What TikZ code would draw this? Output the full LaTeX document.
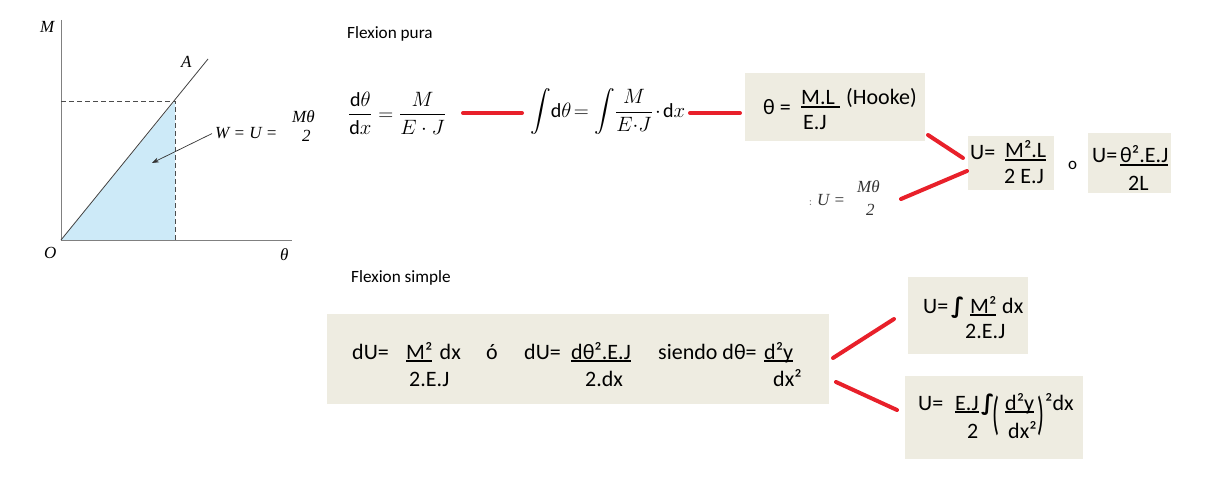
\documentclass[tikz,border=0pt]{standalone}
\usepackage{amsmath}
\usepackage{fontspec}
\setmainfont{Carlito}
\newfontfamily\bookfont{Liberation Serif}
\newfontfamily\signfont{DejaVu Sans}
\usetikzlibrary{arrows.meta}

\definecolor{boxfill}{HTML}{EEECE1}
\definecolor{linkred}{HTML}{E8202A}
\definecolor{areafill}{HTML}{CDEAF8}
\definecolor{axisgray}{HTML}{808080}

% underline of the box texts
\newcommand{\ubar}[1]{\setbox0\hbox{#1}\rlap{\rule[-3pt]{\wd0}{1.8pt}}\box0}
% thin tall parenthesis
\newcommand{\tallpar}[1]{\scalebox{0.5}[1]{\fontsize{46}{48}\selectfont #1}}

\begin{document}
\begin{tikzpicture}[x=1pt,y=-1pt,
    box/.style={fill=boxfill,inner sep=0pt,outer sep=0pt,anchor=north west},
    txt/.style={font=\fontsize{22}{26}\selectfont,inner sep=0pt,anchor=base west},
    head/.style={font=\fontsize{17.2}{20}\selectfont,inner sep=0pt,anchor=base west},
    book/.style={font=\bookfont\itshape\fontsize{17}{19}\selectfont,inner sep=0pt,anchor=base west},
    eqn/.style={font=\fontsize{20}{24}\selectfont,inner sep=0pt,anchor=west},
    link/.style={draw=linkred,line width=4pt,line cap=round}]
    \useasboundingbox (0,0) rectangle (1224,500);

    % graph M - theta
    \coordinate (O) at (61,240);
    \coordinate (Mtop) at (61,20);
    \coordinate (thend) at (292,240);
    \coordinate (P) at (175,101);
    \coordinate (Pm) at (61,101);
    \coordinate (Pt) at (175,240);
    \coordinate (Aend) at (208,59);
    \fill[areafill] (O) -- (P) -- (Pt) -- cycle;
    \draw[axisgray,line width=1pt] (Mtop) -- (O) -- (thend);
    \draw[black!70,line width=0.8pt,dash pattern=on 5pt off 3pt] (Pm) -- (P) -- (Pt);
    \draw[black!75,line width=0.8pt] (O) -- (Aend);
    \node[book] (lM) at (40,33) {M};
    \node[book] (lA) at (181,68) {A};
    \node[book] (lO) at (44,258) {O};
    \node[book] (lth) at (280,260) {θ};
    \node[book] (lW) at (215,139) {W = U =};
    \node[book] (lWnum) at (292,123) {Mθ};
    \node[book] (lWden) at (302,142) {2};
    \draw[-{Stealth[length=7pt,width=5pt]},black!80,line width=0.7pt] ([xshift=-3pt]lW.west) -- (152,163);

    % flexion pura
    \node[head] (hpura) at (347,39) {Flexion pura};
    \node[eqn] (eq1) at (348,113) {$\dfrac{\mathrm{d}\theta}{\mathrm{d}x}=\dfrac{M}{E\cdot J}$};
    \node[eqn] (eq2) at (530,112) {$\displaystyle\int\!\mathrm{d}\theta\mkern2mu{=}\mkern2mu\int\!\dfrac{M}{E{\cdot}J}\mkern2mu{\cdot}\mkern2mu\mathrm{d}x$};

    \foreach \n/\x/\y/\w/\h in {b1/745/73/180/68, b2/968/136/86/54, b3/1088/133/83/60,
        b4/327/314/502/90, b5/908/277/120/77, b6/905/376/178/83}
      \node[box,minimum width=\w pt,minimum height=\h pt] (\n) at (\x,\y) {};

    \node[txt] (t1a) at (763,115) {θ =};
    \node[txt] (t1b) at (801,105) {\ubar{M.L\ }};
    \node[txt] (t1c) at (803,130) {E.J};
    \node[txt] (t1d) at (846,105) {(Hooke)};

    \node[txt] (t2a) at (970,160) {U=};
    \node[txt] (t2b) at (1005,158) {\ubar{M².L}};
    \node[txt] (t2c) at (1004,183) {2 E.J};
    \node[txt,font=\fontsize{17}{20}\selectfont] (tor) at (1068,170) {o};
    \node[txt] (t3a) at (1092,163) {U=};
    \node[txt] (t3b) at (1120,163) {\ubar{θ².E.J}};
    \node[txt] (t3c) at (1128,190) {2L};

    \node[font=\fontsize{11}{13}\selectfont,text=black!50,inner sep=0pt,anchor=base west] (sdot) at (809,205) {:};
    \node[book,text=black!80] (sU) at (817,205) {U =};
    \node[book,text=black!80] (snum) at (857,193) {Mθ};
    \node[book,text=black!80] (sden) at (866,215) {2};

    % flexion simple
    \node[head] (hsimple) at (351,282) {Flexion simple};
    \node[txt] (t4a) at (352,359) {dU=};
    \node[txt] (t4b) at (406,359) {\ubar{M²}\,\,dx};
    \node[txt] (t4c) at (409,386) {2.E.J};
    \node[txt] (t4d) at (486,359) {ó};
    \node[txt] (t4e) at (524,359) {dU=};
    \node[txt] (t4f) at (571,359) {\ubar{dθ².E.J}};
    \node[txt] (t4g) at (585,386) {2.dx};
    \node[txt] (t4h) at (658,359) {siendo dθ=};
    \node[txt] (t4i) at (764,359) {\ubar{d²y}};
    \node[txt] (t4j) at (773,386) {dx²};

    \node[txt] (t5a) at (923,313) {U=};
    \node[txt] (t5b) at (951,313) {\signfont\bfseries ∫};
    \node[txt] (t5c) at (970,313) {\ubar{M²}};
    \node[txt] (t5d) at (1002,313) {dx};
    \node[txt] (t5e) at (965,338) {2.E.J};

    \node[txt] (t6a) at (918,410) {U=};
    \node[txt] (t6b) at (955,410) {\ubar{E.J}};
    \node[txt] (t6c) at (967,438) {2};
    \node[txt] (t6d) at (981,410) {\signfont\bfseries ∫};
    \node[txt] (t6e) at (992,429) {\tallpar{(}};
    \node[txt] (t6f) at (1005,410) {\ubar{d²y}};
    \node[txt] (t6g) at (1008,438) {dx²};
    \node[txt] (t6h) at (1037,429) {\tallpar{)}};
    \node[txt] (t6i) at (1045,410) {²dx};

    % red links
    \coordinate (r1a) at (463,113); \coordinate (r1b) at (522,113);
    \coordinate (r2a) at (690,113); \coordinate (r2b) at (740,113);
    \coordinate (r3a) at (928,135); \coordinate (r3b) at (963,158);
    \coordinate (r4a) at (901,199); \coordinate (r4b) at (967,171);
    \coordinate (r5a) at (833,358); \coordinate (r5b) at (894,319);
    \coordinate (r6a) at (836,382); \coordinate (r6b) at (897,410);
    \foreach \k in {1,...,6}
      \draw[link] (r\k a) -- (r\k b);
\end{tikzpicture}
\end{document}
